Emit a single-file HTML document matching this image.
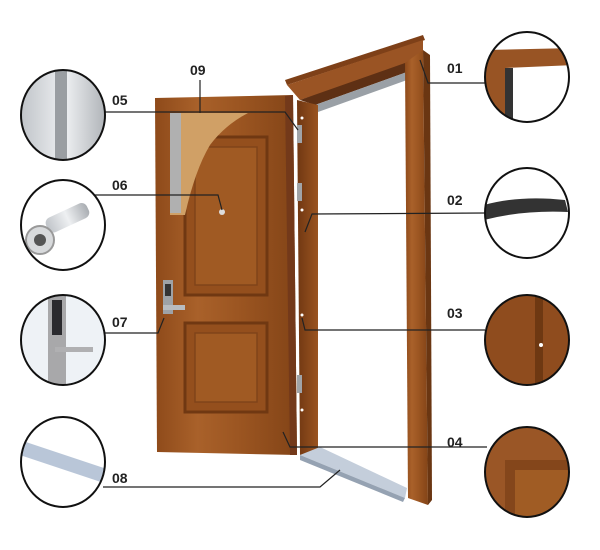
<!DOCTYPE html>
<html><head><meta charset="utf-8"><style>
html,body{margin:0;padding:0;background:#fff;width:600px;height:550px;overflow:hidden}
text{font-family:"Liberation Sans",Arial,sans-serif;font-weight:bold;font-size:14px;fill:#222}
</style></head><body>
<svg width="600" height="550" viewBox="0 0 600 550" xmlns="http://www.w3.org/2000/svg">
<defs>
<linearGradient id="wood" x1="0" x2="1" y1="0" y2="0">
<stop offset="0" stop-color="#8e4a1a"/><stop offset="0.3" stop-color="#a9612a"/><stop offset="0.6" stop-color="#9b5521"/><stop offset="1" stop-color="#834417"/></linearGradient>
<linearGradient id="woodd" x1="0" x2="1"><stop offset="0" stop-color="#703712"/><stop offset="1" stop-color="#9a5420"/></linearGradient>
<linearGradient id="metal" x1="0" x2="1"><stop offset="0" stop-color="#bfc3c8"/><stop offset="0.5" stop-color="#eef0f2"/><stop offset="1" stop-color="#a9adb2"/></linearGradient>
<clipPath id="c1"><ellipse cx="63" cy="115" rx="42" ry="45"/></clipPath>
<clipPath id="c2"><ellipse cx="63" cy="225" rx="42" ry="45"/></clipPath>
<clipPath id="c3"><ellipse cx="63" cy="340" rx="42" ry="45"/></clipPath>
<clipPath id="c4"><ellipse cx="63" cy="462" rx="42" ry="45"/></clipPath>
<clipPath id="r1"><ellipse cx="527" cy="77" rx="42" ry="45"/></clipPath>
<clipPath id="r2"><ellipse cx="527" cy="213" rx="42" ry="45"/></clipPath>
<clipPath id="r3"><ellipse cx="527" cy="340" rx="42" ry="45"/></clipPath>
<clipPath id="r4"><ellipse cx="527" cy="472" rx="42" ry="45"/></clipPath>
</defs>
<!-- frame -->
<polygon points="285,80 423,35 425,40 287,85" fill="#7e4018"/>
<polygon points="287,85 423,40 423,60 300,100" fill="#9a5424"/>
<polygon points="300,100 405,63 407,72 315,105" fill="#5e3014"/>
<polygon points="315,105 407,72 407,80 318,112" fill="#9aa0a6"/>
<polygon points="405,63 423,50 428,505 408,498" fill="url(#wood)"/>
<polygon points="423,50 430,55 432,500 428,505" fill="#6a3612"/>
<polygon points="297,100 318,105 318,450 300,455" fill="url(#woodd)"/>
<polygon points="300,455 320,447 407,488 405,498" fill="#c4cedb"/>
<polygon points="300,455 405,498 403,502 300,460" fill="#95a2b2"/>
<!-- door leaf -->
<polygon points="155,98 293,95 297,455 157,452" fill="url(#wood)"/>
<polygon points="285,96 293,95 297,455 290,455" fill="#73391a"/>
<rect x="185" y="137" width="82" height="158" fill="#944f1d" stroke="#703812" stroke-width="3"/>
<rect x="195" y="147" width="62" height="138" fill="#a05a23" stroke="#80441a" stroke-width="1.5"/>
<rect x="185" y="323" width="82" height="89" fill="#944f1d" stroke="#703812" stroke-width="3"/>
<rect x="195" y="333" width="62" height="69" fill="#a05a23" stroke="#80441a" stroke-width="1.5"/>
<path d="M170,113 L248,113 Q225,125 210,145 Q195,170 185,215 L170,215 Z" fill="#d0a066"/>
<rect x="170" y="113" width="11" height="100" fill="#b0b0b0"/>
<circle cx="222" cy="212" r="3" fill="#ddd"/>
<rect x="163" y="280" width="10" height="34" fill="#9ea2a6"/><rect x="165" y="284" width="6" height="12" fill="#333"/>
<rect x="163" y="305" width="22" height="5" fill="#b8bcc0"/>
<rect x="297" y="125" width="5" height="18" fill="#a0a4a8"/><rect x="297" y="183" width="5" height="18" fill="#a0a4a8"/><rect x="297" y="375" width="5" height="18" fill="#a0a4a8"/>
<circle cx="302" cy="118" r="1.5" fill="#fff"/><circle cx="302" cy="210" r="1.5" fill="#fff"/><circle cx="302" cy="315" r="1.5" fill="#fff"/><circle cx="302" cy="410" r="1.5" fill="#fff"/>
<!-- leader lines -->
<g stroke="#222" stroke-width="1.2" fill="none">
<polyline points="100,112 285,112 298,130"/>
<polyline points="200,80 200,113"/>
<polyline points="90,195 218,195 222,210"/>
<polyline points="102,333 158,333 164,318"/>
<polyline points="103,487 320,487 340,470"/>
<polyline points="485,83 428,83 420,60"/>
<polyline points="485,213 312,214 305,232"/>
<polyline points="485,330 305,330 302,318"/>
<polyline points="487,447 290,447 283,432"/>
</g>
<text x="112" y="105">05</text><text x="190" y="75">09</text><text x="112" y="190">06</text>
<text x="112" y="327">07</text><text x="112" y="483">08</text>
<text x="447" y="73">01</text><text x="447" y="205">02</text><text x="447" y="318">03</text><text x="447" y="447">04</text>
<!-- left circles -->
<g clip-path="url(#c1)"><rect x="20" y="68" width="90" height="95" fill="url(#metal)"/><rect x="55" y="68" width="12" height="95" fill="#9a9ea2"/></g>
<g clip-path="url(#c2)"><rect x="20" y="178" width="90" height="95" fill="#fff"/><rect x="45" y="210" width="45" height="16" rx="6" fill="url(#metal)" transform="rotate(-25 67 218)"/><circle cx="40" cy="240" r="14" fill="#d8dadc" stroke="#999" stroke-width="2"/><circle cx="40" cy="240" r="6" fill="#555"/></g>
<g clip-path="url(#c3)"><rect x="20" y="293" width="90" height="95" fill="#eef2f6"/><rect x="48" y="293" width="18" height="95" fill="#a8a8aa"/><rect x="52" y="300" width="10" height="35" fill="#2a2a2e"/><rect x="55" y="347" width="38" height="5" fill="#b0b0b2"/></g>
<g clip-path="url(#c4)"><rect x="20" y="415" width="90" height="95" fill="#fff"/><polygon points="20,440 110,470 110,485 20,455" fill="#b9c6d8"/></g>
<!-- right circles -->
<g clip-path="url(#r1)"><rect x="484" y="30" width="90" height="95" fill="#fff"/><polygon points="484,50 574,48 574,65 505,68 505,125 484,125" fill="#985424"/><rect x="505" y="68" width="8" height="57" fill="#333"/></g>
<g clip-path="url(#r2)"><rect x="484" y="166" width="90" height="95" fill="#fff"/><path d="M484,205 Q520,195 565,200 L568,212 Q522,210 484,220 Z" fill="#333"/></g>
<g clip-path="url(#r3)"><rect x="484" y="293" width="90" height="95" fill="#8f4c1e"/><rect x="535" y="293" width="8" height="95" fill="#6e3812"/><circle cx="541" cy="345" r="2" fill="#fff"/></g>
<g clip-path="url(#r4)"><rect x="484" y="425" width="90" height="95" fill="#9a5626"/><rect x="505" y="460" width="70" height="60" fill="#84461b"/><rect x="515" y="470" width="60" height="50" fill="#a05c24"/></g>
<g fill="none" stroke="#111" stroke-width="2">
<ellipse cx="63" cy="115" rx="42" ry="45"/><ellipse cx="63" cy="225" rx="42" ry="45"/><ellipse cx="63" cy="340" rx="42" ry="45"/><ellipse cx="63" cy="462" rx="42" ry="45"/>
<ellipse cx="527" cy="77" rx="42" ry="45"/><ellipse cx="527" cy="213" rx="42" ry="45"/><ellipse cx="527" cy="340" rx="42" ry="45"/><ellipse cx="527" cy="472" rx="42" ry="45"/>
</g>
</svg>
</body></html>
